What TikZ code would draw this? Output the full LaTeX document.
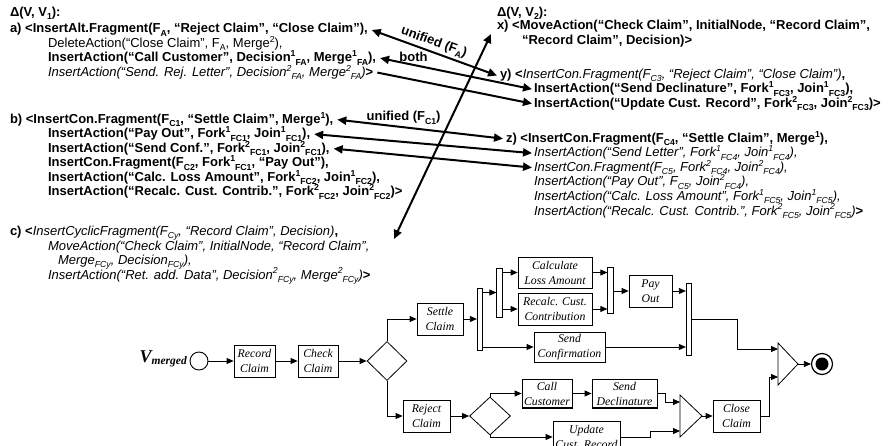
\documentclass[tikz,border=0pt]{standalone}
\usepackage{fontspec}
\setmainfont{Liberation Sans}
\newfontfamily\tms{Liberation Serif}
\usetikzlibrary{arrows.meta,shapes.geometric,calc}
\newcommand\SB[1]{\raisebox{-0.26em}{\fontsize{8.7}{9}\selectfont #1}}
\newcommand\SP[1]{\raisebox{0.4em}{\fontsize{8.7}{9}\selectfont #1}}
\begin{document}
\begin{tikzpicture}[x=1pt,y=-1pt,
  ln/.style={anchor=base west, inner sep=0pt, outer sep=0pt, font=\fontsize{13}{15}\selectfont},
  lb/.style={ln, font=\fontsize{13}{15}\selectfont\bfseries},
  li/.style={ln, font=\fontsize{13}{15}\selectfont\itshape},
  lbl/.style={font=\fontsize{13}{15}\selectfont\bfseries, inner sep=2pt},
  tarr/.style={line width=2pt, -{Triangle[length=9pt,width=8pt]}},
  darr/.style={line width=2pt, {Triangle[length=9pt,width=8pt]}-{Triangle[length=9pt,width=8pt]}},
  act/.style={draw, line width=0.8pt, fill=white, align=center, inner sep=0pt,
    preaction={draw, line width=0.8pt, transform canvas={xshift=0.7pt, yshift=-0.7pt}},
    font=\tms\itshape\fontsize{11.8}{15}\selectfont},
  bar/.style={draw, line width=0.8pt, fill=white, inner sep=0pt, minimum width=5.5pt},
  dec/.style={draw, diamond, line width=0.8pt, inner sep=0pt, minimum width=40pt, minimum height=39pt, shape aspect=1},
  flow/.style={line width=0.8pt, -{Triangle[length=7pt,width=6pt]}}]
\useasboundingbox (0,0) rectangle (890,446);
\clip (0,0) rectangle (890,446);
\fill[white] (0,0) rectangle (890,446);

% ---------- left column
\node[lb] (l0) at (10,16.5) {Δ(V, V\SB{1}):};
\node[lb] (la) at (10,33) {a) <InsertAlt.Fragment(F\SB{A}, “Reject Claim”, “Close Claim”),};
\node[ln] (la1) at (48,47.5) {DeleteAction(“Close Claim”, F\SB{A}, Merge\SP{2}),};
\node[lb] (la2) at (48,62) {InsertAction(“Call Customer”, Decision\SP{1}\SB{FA}, Merge\SP{1}\SB{FA}),};
\node[li] (la3) at (48,76.5) {InsertAction(“Send. Rej. Letter”, Decision\SP{2}\SB{FA}, Merge\SP{2}\SB{FA}){\upshape\bfseries >}};

\node[lb] (lb) at (10,123.5) {b) <InsertCon.Fragment(F\SB{C1}, “Settle Claim”, Merge\SP{1}),};
\node[lb] (lb1) at (48,138) {InsertAction(“Pay Out”, Fork\SP{1}\SB{FC1}, Join\SP{1}\SB{FC1}),};
\node[lb] (lb2) at (48,152.5) {InsertAction(“Send Conf.”, Fork\SP{2}\SB{FC1}, Join\SP{2}\SB{FC1}),};
\node[lb] (lb3) at (48,167) {InsertCon.Fragment(F\SB{C2}, Fork\SP{1}\SB{FC1}, “Pay Out”),};
\node[lb] (lb4) at (48,181.5) {InsertAction(“Calc. Loss Amount”, Fork\SP{1}\SB{FC2}, Join\SP{1}\SB{FC2}),};
\node[lb] (lb5) at (48,196) {InsertAction(“Recalc. Cust. Contrib.”, Fork\SP{2}\SB{FC2}, Join\SP{2}\SB{FC2})>};

\node[ln] (lc) at (10,235.5) {\bfseries c) <\mdseries\itshape InsertCyclicFragment(F\SB{Cy}, “Record Claim”, Decision)\upshape\bfseries ,};
\node[li] (lc1) at (48,250) {MoveAction(“Check Claim”, InitialNode, “Record Claim”,};
\node[li] (lc2) at (58,264.5) {Merge\SB{FCy}, Decision\SB{FCy}),};
\node[li] (lc3) at (48,279) {InsertAction(“Ret. add. Data”, Decision\SP{2}\SB{FCy}, Merge\SP{2}\SB{FCy}){\upshape\bfseries >}};

% ---------- right column
\node[lb] (r0) at (497,16.5) {Δ(V, V\SB{2}):};
\node[lb] (rx) at (497,30) {x) <MoveAction(“Check Claim”, InitialNode, “Record Claim”,};
\node[lb] (rx1) at (522,44.5) {“Record Claim”, Decision)>};
\node[ln] (ry) at (500,78.5) {\bfseries y) <\mdseries\itshape InsertCon.Fragment(F\SB{C3}, “Reject Claim”, “Close Claim”)\upshape\bfseries ,};
\node[lb] (ry1) at (534,93) {InsertAction(“Send Declinature”, Fork\SP{1}\SB{FC3}, Join\SP{1}\SB{FC3}),};
\node[lb] (ry2) at (534,107.5) {InsertAction(“Update Cust. Record”, Fork\SP{2}\SB{FC3}, Join\SP{2}\SB{FC3})>};
\node[lb] (rz) at (506,142.5) {z) <InsertCon.Fragment(F\SB{C4}, “Settle Claim”, Merge\SP{1}),};
\node[li] (rz1) at (534,157) {InsertAction(“Send Letter”, Fork\SP{1}\SB{FC4}, Join\SP{1}\SB{FC4}),};
\node[li] (rz2) at (534,171.5) {InsertCon.Fragment(F\SB{C5}, Fork\SP{2}\SB{FC4}, Join\SP{2}\SB{FC4}),};
\node[li] (rz3) at (534,186) {InsertAction(“Pay Out”, F\SB{C5}, Join\SP{2}\SB{FC4}),};
\node[li] (rz4) at (534,200.5) {InsertAction(“Calc. Loss Amount”, Fork\SP{1}\SB{FC5}, Join\SP{1}\SB{FC5}),};
\node[li] (rz5) at (534,215) {InsertAction(“Recalc. Cust. Contrib.”, Fork\SP{2}\SB{FC5}, Join\SP{2}\SB{FC5}){\upshape\bfseries >}};

% ---------- correspondence arrows
\draw[darr] ([xshift=4pt]la.east) -- node[lbl, sloped, above, pos=0.47] {unified (F\SB{A})} ([xshift=-3pt]ry.west);
\draw[darr] ([xshift=4pt]la2.east) -- node[lbl, above, pos=0.22] {both} ([xshift=-2pt]ry1.west);
\draw[tarr] ([xshift=4pt]la3.east) -- ([xshift=-2pt]ry2.west);
\draw[darr] ([xshift=4pt]lb.east) -- node[lbl, above, pos=0.4] {unified (F\SB{C1})} ([xshift=-3pt]rz.west);
\draw[darr] ([xshift=4pt]lb1.east) -- ([xshift=-2pt]rz1.west);
\draw[darr] ([xshift=4pt]lb2.east) -- ([xshift=-2pt]rz2.west);
\coordinate (dgA) at (394,239);
\coordinate (dgB) at (491,34);
\draw[darr] (dgA) -- (dgB);

% ---------- process diagram
\node[anchor=base east, inner sep=0pt] (vm) at (187,362) {\tms\bfseries\itshape\fontsize{18}{18}\selectfont V\raisebox{-2.5pt}{\fontsize{11.5}{12}\selectfont merged}};
\node[circle, draw, line width=0.9pt, minimum size=18pt, inner sep=0pt] (init) at (199,361) {};
\node[act, minimum width=41pt, minimum height=32pt] (rec) at (254.5,361) {Record\\Claim};
\node[act, minimum width=40pt, minimum height=32pt] (chk) at (318,361) {Check\\Claim};
\node[dec] (d1) at (387,361) {};
\node[act, minimum width=46pt, minimum height=32pt] (settle) at (440,319) {Settle\\Claim};
\node[act, minimum width=47pt, minimum height=32pt] (reject) at (426.5,416) {Reject\\Claim};
\node[bar, minimum height=62pt] (fb1) at (480,319) {};
\node[bar, minimum height=49pt] (fb2) at (499.5,292.5) {};
\node[act, minimum width=74pt, minimum height=31pt] (calc) at (555,272.5) {Calculate\\Loss Amount};
\node[act, minimum width=74pt, minimum height=32pt] (recalc) at (555,309) {Recalc. Cust.\\Contribution};
\node[bar, minimum height=46pt] (jb1) at (610.5,290) {};
\node[act, minimum width=43pt, minimum height=32pt] (pay) at (650.5,291) {Pay\\Out};
\node[act, minimum width=71pt, minimum height=30pt] (conf) at (569.5,347) {Send\\Confirmation};
\node[bar, minimum height=72pt] (jb2) at (689,319) {};
\node[dec, minimum width=41pt, minimum height=38pt] (d2) at (490,416) {};
\node[act, minimum width=50pt, minimum height=28pt] (call) at (547,393.5) {Call\\Customer};
\node[act, minimum width=65pt, minimum height=28pt] (decl) at (624.5,393.5) {Send\\Declinature};
\node[act, minimum width=67pt, minimum height=32pt] (upd) at (586.5,437) {Update\\Cust. Record};
\node[act, minimum width=47pt, minimum height=32pt] (close) at (736.5,416) {Close\\Claim};
\node[circle, draw, line width=1.2pt, minimum size=21pt, inner sep=0pt] (fin) at (822,364) {};
\fill (fin.center) circle (6.5pt);

\coordinate (m2a) at (680,395); \coordinate (m2b) at (680,437); \coordinate (m2t) at (702,416);
\draw[line width=0.8pt, fill=white] (m2a) -- (m2t) -- (m2b) -- cycle;
\coordinate (m2i1) at (680,402); \coordinate (m2i2) at (680,431);
\coordinate (m3a) at (778,343); \coordinate (m3b) at (778,385); \coordinate (m3t) at (798,364);
\draw[line width=0.8pt, fill=white] (m3a) -- (m3t) -- (m3b) -- cycle;
\coordinate (m3i1) at (778,349); \coordinate (m3i2) at (778,377);

\draw[flow] (init) -- (rec);
\draw[flow] (rec) -- (chk);
\draw[flow] (chk) -- (d1);
\draw[flow] (d1.north) |- (settle.west);
\draw[flow] (d1.south) |- (reject.west);
\draw[flow] (settle.east) -- (settle.east -| fb1.west);
\draw[flow] (fb1.east |- fb2.west) -- (fb2.west);
\draw[flow] (fb1.east |- conf.west) -- (conf.west);
\draw[flow] (fb2.east |- calc.west) -- (calc.west);
\draw[flow] (fb2.east |- recalc.west) -- (recalc.west);
\draw[flow] (calc.east) -- (calc.east -| jb1.west);
\draw[flow] (recalc.east) -- (recalc.east -| jb1.west);
\draw[flow] (jb1.east |- pay.west) -- (pay.west);
\draw[flow] (pay.east) -- (pay.east -| jb2.west);
\draw[flow] (conf.east) -- (conf.east -| jb2.west);
\draw[flow] (jb2.east) -- ++(45,0) |- (m3i1);
\draw[flow] (reject) -- (d2);
\draw[flow] (d2.north) |- (call.west);
\draw[flow] (d2.south) |- (upd.west);
\draw[flow] (call) -- (decl);
\draw[flow] (decl.east) -- ++(8,0) |- (m2i1);
\draw[flow] (upd.east) -- ++(30,0) |- (m2i2);
\draw[flow] (m2t) -- (close.west);
\draw[flow] (close.east) -- ++(9,0) |- (m3i2);
\draw[flow] (m3t) -- (fin);
\end{tikzpicture}
\end{document}
